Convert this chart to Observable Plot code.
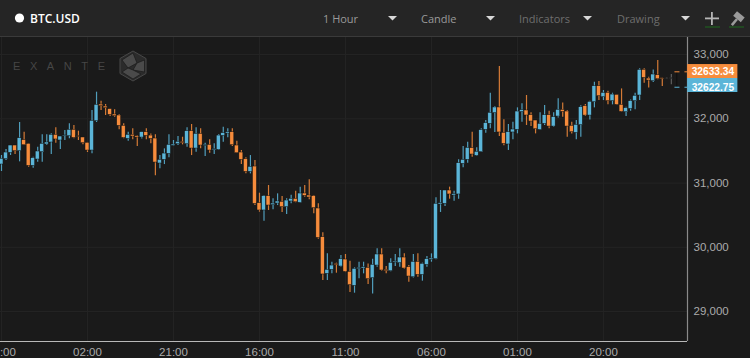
<!DOCTYPE html>
<html>
<head>
<meta charset="utf-8">
<script src="https://cdn.jsdelivr.net/npm/d3@7"></script>
<script src="https://cdn.jsdelivr.net/npm/@observablehq/plot@0.6"></script>
<style>
html,body{margin:0;padding:0;background:#1a1a1a;width:750px;height:358px;overflow:hidden}
#wrap{position:relative;width:750px;height:358px;font-family:"Open Sans",sans-serif}
#head{position:absolute;left:0;top:0;width:750px;height:36px;background:#252525;border-bottom:1px solid #3a3a3a}
#head span{position:absolute;top:9.5px;font-size:11px;line-height:17px;white-space:nowrap;color:#9a9a9a}
#chart{position:absolute;left:0;top:37px}
#mark{position:absolute;left:13px;top:59px;font-size:11px;letter-spacing:9.6px;color:#464646;font-family:"Liberation Sans",sans-serif;line-height:14px}
.ov{position:absolute;left:0;top:0;pointer-events:none}
</style>
</head>
<body>
<div id="wrap">
  <div id="head">
    <span style="left:30px;color:#fff;font-weight:600;font-size:12px">BTC.USD</span>
    <span style="left:323px">1 Hour</span>
    <span style="left:421px">Candle</span>
    <span style="left:519px;color:#6e6e6e">Indicators</span>
    <span style="left:617px;color:#6e6e6e">Drawing</span>
  </div>
  <div id="chart"></div>
  <div id="mark">EXANTE</div>
  <svg class="ov" width="750" height="90" viewBox="0 0 750 90">
    <circle cx="19.5" cy="18" r="4.6" fill="#fff"/>
    <g fill="#d8d8d8">
      <polygon points="388,16 397,16 392.5,20.5"/>
      <polygon points="486,16 495,16 490.5,20.5"/>
      <polygon points="583,16 592,16 587.5,20.5"/>
      <polygon points="681,16 690,16 685.5,20.5"/>
    </g>
    <rect x="711" y="12" width="1.8" height="13" fill="#b5b5b5"/>
    <rect x="705" y="17.5" width="14" height="1.8" fill="#b5b5b5"/>
    <rect x="705" y="26.5" width="15" height="1" fill="#1f6a1f"/>
    <g transform="rotate(40 737 19)" fill="#9a9a9a">
      <rect x="732" y="13" width="10" height="6"/>
      <rect x="735.7" y="19" width="2.6" height="8"/>
    </g>
    <rect x="729" y="26.5" width="15" height="1" fill="#1f6a1f"/>
    <g stroke="#1a1a1a" stroke-width="0.7" fill="#4a4a4a">
      <polygon points="133,51 146,58.5 146,73.5 133,81 120,73.5 120,58.5" fill="#2b2b2b" stroke="#484848" stroke-width="1"/>
      <polygon points="133,53 137,63 128,68 122,60"/>
      <polygon points="137,63 144.5,60 144.5,72 133,70"/>
      <polygon points="128,68 133,70 141,74 133,79 122,72"/>
    </g>
  </svg>
</div>
<script>
const open = [31288,31371,31470,31584,31496,31667,31610,31268,31366,31480,
31600,31631,31750,31662,31729,31729,31828,31729,31709,31626,
31506,31963,32222,32191,32150,32067,32051,31890,31687,31750,
31729,31708,31791,31739,31693,31304,31361,31454,31579,31604,
31641,31604,31807,31537,31765,31579,31594,31511,31516,31734,
31770,31791,31584,31475,31371,31174,31257,30687,30573,30796,
30656,30681,30707,30624,30713,30754,30692,30837,30806,30796,
30604,30157,29587,29649,29742,29701,29810,29618,29400,29659,
29670,29680,29519,29716,29888,29649,29628,29763,29753,29841,
29690,29535,29773,29571,29727,29805,29815,30666,30677,30884,
30806,30822,31299,31361,31543,31424,31481,31828,31922,32087,
32176,31781,31600,31787,31828,32103,32129,32056,31973,31827,
31921,32056,31879,32035,32139,32113,31890,31781,31900,32196,
32050,32258,32507,32336,32403,32274,32372,32217,32102,32154,
32274,32362,32761,32626,32585,32678,32632,32630,32622];
const close = [31377,31475,31584,31496,31698,31589,31268,31387,31491,31610,
31631,31750,31678,31724,31740,31828,31703,31719,31620,31506,
31968,32217,32196,32165,32061,32041,31890,31703,31750,31724,
31708,31791,31734,31687,31319,31361,31459,31594,31599,31641,
31620,31807,31537,31765,31584,31594,31506,31527,31739,31776,
31791,31589,31464,31361,31174,31252,30676,30573,30796,30650,
30681,30713,30624,30728,30754,30702,30837,30801,30775,30609,
30147,29577,29649,29716,29722,29815,29618,29410,29664,29680,
29690,29504,29727,29888,29639,29628,29758,29779,29841,29670,
29545,29773,29571,29742,29815,29825,30677,30687,30884,30822,
30827,31309,31361,31548,31444,31486,31823,31932,32093,32176,
31787,31610,31792,31833,32113,32134,32051,31957,31838,31921,
32056,31879,32025,32139,32107,31879,31791,31905,32180,32050,
32263,32507,32351,32403,32274,32377,32217,32108,32165,32274,
32357,32761,32637,32595,32689,32616,32616,32622,32633];
const high = [31429,31522,31584,31584,31942,31792,31610,31403,31558,31750,
31750,31766,31859,31724,31818,31921,31895,31807,31709,31626,
32129,32414,32274,32222,32150,32139,32067,31921,31791,31843,
31739,31791,31843,31765,31750,31428,31532,31750,31662,31724,
31713,31859,31911,31859,31843,31620,31672,31610,31755,31869,
31843,31843,31651,31506,31392,31428,31351,30842,30806,30962,
30754,30832,30790,30754,30811,30873,30936,30962,31050,30806,
30676,30225,29898,29768,29753,29872,29888,29784,29680,29768,
29768,29742,29815,29976,29976,29701,29820,29888,29976,29898,
29716,29888,29898,29753,29856,29898,30770,30884,30884,30936,
30874,31361,31569,31636,31792,31548,31844,31973,32399,32191,
32814,31984,31911,31947,32170,32233,32362,32092,31973,32092,
32206,32118,32092,32310,32247,32128,31947,31973,32201,32222,
32273,32569,32580,32440,32429,32398,32372,32465,32180,32294,
32398,32777,32777,32647,32761,32906,32632,32640,32690];
const low = [31180,31351,31429,31444,31330,31584,31247,31231,31325,31325,
31584,31444,31620,31522,31662,31688,31688,31662,31595,31475,
31454,31942,32129,32051,32035,32025,31828,31688,31651,31672,
31568,31687,31672,31610,31112,31221,31288,31392,31573,31584,
31594,31558,31428,31480,31532,31413,31464,31444,31506,31636,
31703,31568,31464,31288,31143,31143,30650,30547,30407,30573,
30583,30650,30541,30510,30676,30692,30687,30780,30739,30521,
30126,29483,29483,29587,29597,29690,29607,29296,29286,29509,
29587,29421,29275,29690,29628,29587,29618,29701,29690,29659,
29457,29524,29535,29473,29690,29768,29805,30542,30635,30749,
30718,30749,31237,31309,31403,31413,31475,31776,31844,31787,
31724,31579,31507,31672,31766,31947,31896,31879,31765,31817,
31895,31843,31869,32014,32025,31713,31765,31672,31713,32035,
31983,32170,32284,32284,32217,32217,32206,32102,32035,32118,
32139,32284,32554,32481,32564,32606,32502,32615,32530];

const liveCount = 147;
const timeTicks = [0,19,38,57,76,95,114,133];
const timeLabels = ["07:00","02:00","21:00","16:00","11:00","06:00","01:00","20:00"];
const priceTicks = [29000,30000,31000,32000,33000];
const askPrice = "32633.34";
const bidPrice = "32622.75";
const askSlot = 32731, bidSlot = 32491;
const askBox = [32844,32627], bidBox = [32627,32409];

const UP = "#5bb5d8", DOWN = "#f68c3c", PENDING = "#6b6b6b";
const candles = open.map((o,i)=>({i,open:o,close:close[i],high:high[i],low:low[i],
  color:i>=liveCount?PENDING:(close[i]>=o?UP:DOWN)}));

const halfBody = 0.44;
const boxX = [151.6,162.7];

const chart = Plot.plot({
  width:750,height:321,
  marginLeft:0,marginRight:63,marginTop:0,marginBottom:17,
  style:{background:"#1a1a1a",color:"#ababab",fontFamily:"'Liberation Sans',sans-serif",overflow:"visible"},
  x:{type:"linear",domain:[-0.22,151.57],axis:null},
  y:{type:"linear",domain:[28534,33265],axis:null},
  marks:[
    Plot.ruleX(timeTicks,{stroke:"#242424",strokeWidth:1}),
    Plot.ruleY(priceTicks,{stroke:"#242424",strokeWidth:1}),
    Plot.ruleX(candles,{x:"i",y1:"low",y2:"high",stroke:"color",strokeWidth:1.2,strokeOpacity:0.85}),
    Plot.rect(candles,{x1:d=>d.i-halfBody,x2:d=>d.i+halfBody,y1:"open",y2:"close",
      fill:"color",stroke:"#121212",strokeWidth:0.5}),
    Plot.ruleY([28534],{stroke:"#b8b8b8",strokeWidth:1.2}),
    Plot.ruleX([151.57],{stroke:"#8a8a8a",strokeWidth:1.2}),
    Plot.ruleX([149.2],{y1:bidSlot,y2:askSlot,stroke:"#0e0e0e",strokeWidth:1}),
    Plot.ruleY([askSlot],{x1:148.8,x2:151.57,stroke:DOWN,strokeDasharray:"5,5",strokeWidth:1}),
    Plot.ruleY([bidSlot],{x1:148.8,x2:151.57,stroke:UP,strokeDasharray:"5,5",strokeWidth:1}),
    Plot.rect([askBox],{x1:boxX[0],x2:boxX[1],y1:d=>d[0],y2:d=>d[1],fill:DOWN}),
    Plot.rect([bidBox],{x1:boxX[0],x2:boxX[1],y1:d=>d[0],y2:d=>d[1],fill:UP}),
    Plot.text([askPrice],{x:152.5,y:askSlot,text:d=>d,textAnchor:"start",fill:"#fff",fontSize:10.2,fontWeight:600}),
    Plot.text([bidPrice],{x:152.5,y:bidSlot,text:d=>d,textAnchor:"start",fill:"#fff",fontSize:10.2,fontWeight:600}),
    Plot.axisY(priceTicks,{anchor:"right",tickSize:0,tickPadding:6,tickFormat:d3.format(","),fontSize:11.5,fill:"#ababab",label:null}),
    Plot.axisX(timeTicks,{anchor:"bottom",tickSize:0,tickPadding:6,tickFormat:d=>timeLabels[timeTicks.indexOf(d)],fontSize:11.5,fill:"#ababab",label:null})
  ]
});
document.getElementById("chart").appendChild(chart);
</script>
</body>
</html>
